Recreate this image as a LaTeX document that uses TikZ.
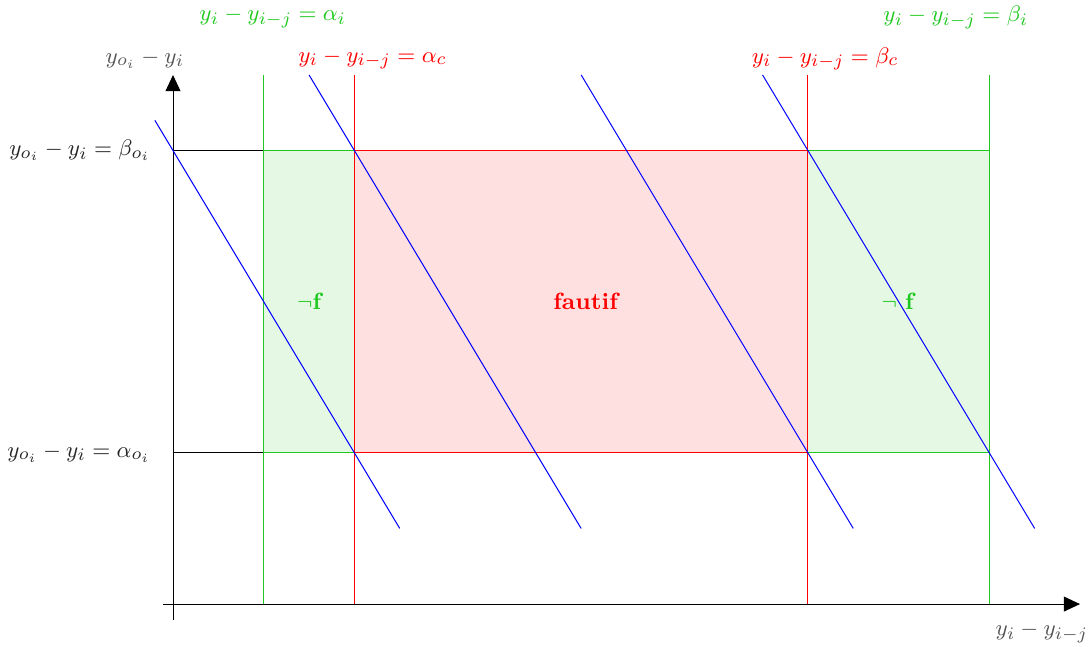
\documentclass[tikz,border=0pt]{standalone}
\usepackage{xcolor}
\usepackage{tikz}
\usetikzlibrary{arrows.meta, positioning, calc}
\usepackage{amsmath}
\definecolor{ok-green}{RGB}{30,200,30}
\definecolor{ax-gray}{RGB}{85,85,85}

\begin{document}
\begin{tikzpicture}[x=0.6375cm, y=0.6375cm,
    every node/.style={font=\fontsize{9.4pt}{11pt}\selectfont},
    axis/.style={-{Triangle[length=6.5pt,width=6pt]}, black},
    borne/.style={thin},
    droite/.style={blue, thin},
    zone/.style={font=\fontsize{9.4pt}{11pt}\selectfont\bfseries},
    axlabel/.style={text=ax-gray}
]
    \useasboundingbox (-3.815,-0.926) rectangle (20.176,13.32);
    % axes
    \coordinate (O) at (0,0);
    \coordinate (xmin) at (-0.22,0);
    \coordinate (xmax) at (20,0);
    \coordinate (ymin) at (0,-0.35);
    \coordinate (ymax) at (0,11.667);

    % zones
    \draw[ok-green, fill=ok-green!12] (2,3.333) rectangle (4,10);
    \draw[ok-green, fill=ok-green!12] (14,3.333) rectangle (18,10);
    \draw[red, fill=red!12] (4,3.333) rectangle (14,10);
    \draw[borne] (0,10) -- (2,10);
    \draw[borne] (0,3.333) -- (2,3.333);

    % bornes verticales
    \draw[borne, ok-green] (2,0) -- (2,11.667);
    \draw[borne, ok-green] (18,0) -- (18,11.667);
    \draw[borne, red] (4,0) -- (4,11.667);
    \draw[borne, red] (14,0) -- (14,11.667);

    \draw[axis] (xmin) -- (xmax);
    \draw[axis] (ymin) -- (ymax);

    % droites
    \draw[droite] (-0.4,10.667) -- (5,1.667);
    \foreach \x in {4,10,14}
        \draw[droite] (\x-1,11.667) -- (\x+5,1.667);

    \node[text=ok-green] (ai) at (2.2,12.93) {$y_i - y_{i-j} = \alpha_i$};
    \node[text=red] (ac) at (4.4,12.02) {$y_i - y_{i-j} = \alpha_c$};
    \node[text=red] (bc) at (14.38,12.02) {$y_i - y_{i-j} = \beta_c$};
    \node[text=ok-green] (bi) at (17.26,12.93) {$y_i - y_{i-j} = \beta_i$};
    \node[axlabel] (ylab) at (-0.62,12.02) {$y_{o_i} - y_i$};
    \node[axlabel] (xlab) at (19.16,-0.62) {$y_i - y_{i-j}$};
    \node[anchor=east, text=black!85] (bo) at (-0.3,10) {$y_{o_i} - y_i = \beta_{o_i}$};
    \node[anchor=east, text=black!85] (ao) at (-0.3,3.333) {$y_{o_i} - y_i = \alpha_{o_i}$};

    \node[zone, text=ok-green] (nf1) at (3,6.667) {$\neg$f};
    \node[zone, text=red] (fautif) at (9.1,6.667) {fautif};
    \node[text=ok-green] (nf2) at (16,6.667) {$\neg$ \textbf{f}};
\end{tikzpicture}
\end{document}
